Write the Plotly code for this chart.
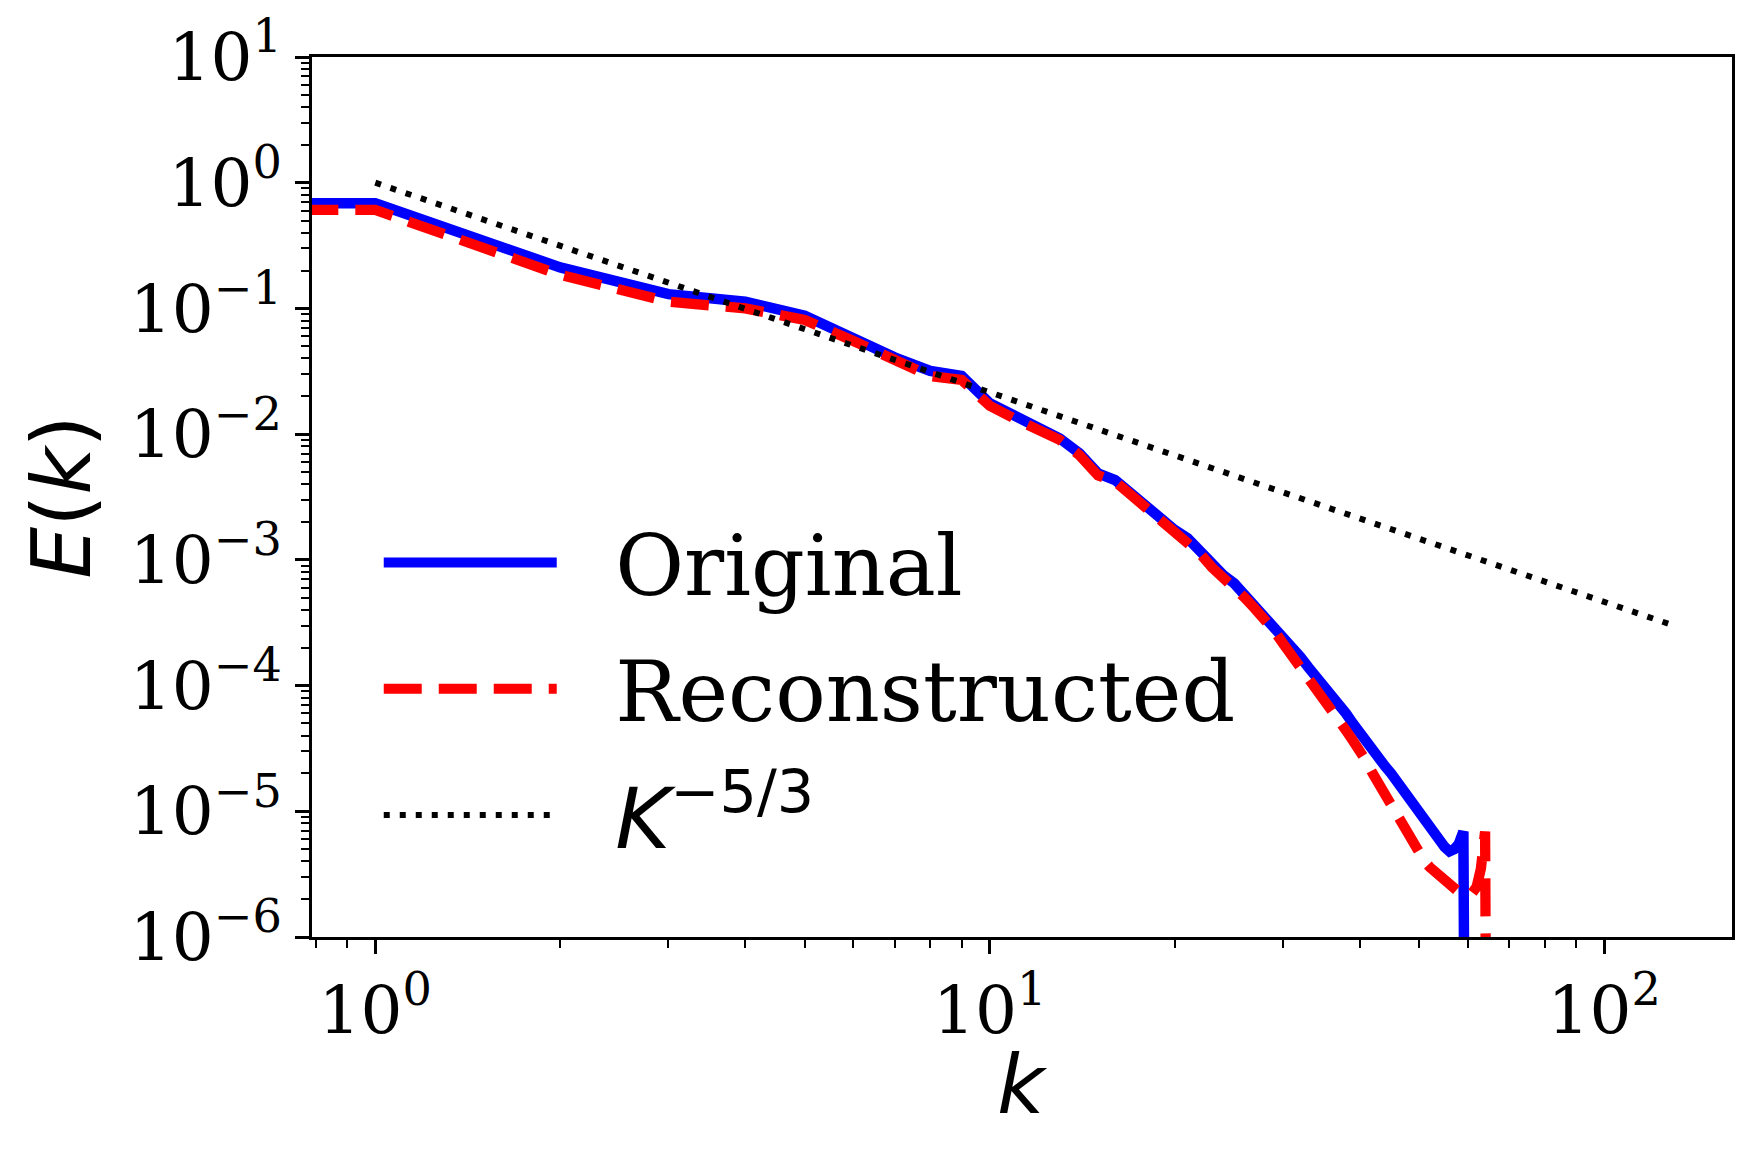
import plotly.graph_objects as go

# wavenumbers; the first entry stands in for k=0, which a log axis cannot show
K_ORIG = [0.5, 1, 2, 3, 4, 5, 6, 7, 8, 9, 10,
          11, 12, 13, 14, 15, 16, 17, 18, 19, 20,
          21, 22, 23, 24, 25, 26, 27, 28, 29, 30,
          31, 32, 33, 34, 35, 36, 37, 38, 39, 40,
          41, 42, 43, 44, 45, 46, 47, 48, 49, 50,
          51, 52, 53, 54, 55, 56, 57, 58, 59, 60]
E_ORIG = [0.686, 0.686, 0.212, 0.130, 0.113, 0.0875, 0.0578, 0.0408, 0.0319, 0.0290, 0.0176,
          0.0137, 0.0111, 0.00925, 0.00703, 0.00487, 0.00431, 0.00338, 0.00273, 0.00207, 0.00173,
          0.00148, 0.00116, 0.00091, 0.000757, 0.00065, 0.000525, 0.000424, 0.000364, 0.000305, 0.000252,
          0.000208, 0.000170, 0.000140, 0.000118, 0.000100, 8.45e-5, 7.1e-5, 6.0e-5, 5.0e-5, 4.17e-5,
          3.52e-5, 2.97e-5, 2.60e-5, 2.28e-5, 2.00e-5, 1.72e-5, 1.46e-5, 1.26e-5, 1.10e-5, 9.6e-6,
          8.3e-6, 7.2e-6, 6.4e-6, 5.7e-6, 5.2e-6, 4.8e-6, 5.0e-6, 5.5e-6, 6.9e-6, 1e-12]

K_REC = [0.5, 1, 2, 3, 4, 5, 6, 7, 8, 9, 10,
         11, 12, 13, 14, 15, 16, 17, 18, 19, 20,
         21, 22, 23, 24, 25, 26, 27, 28, 29, 30,
         31, 32, 33, 34, 35, 36, 37, 38, 39, 40,
         41, 42, 43, 44, 45, 46, 47, 48, 49, 50,
         51, 52, 53, 54, 55, 56, 57, 58, 59, 60,
         61, 62, 63, 64, 65]
E_REC = [0.607, 0.607, 0.185, 0.113, 0.100, 0.081, 0.055, 0.039, 0.029, 0.027, 0.0168,
         0.0132, 0.0108, 0.0090, 0.0068, 0.0047, 0.0042, 0.0033, 0.0026, 0.0020, 0.00167,
         0.00142, 0.00112, 0.00087, 0.00072, 0.00062, 0.00050, 0.00041, 0.00034, 0.000275, 0.000217,
         0.000175, 0.000141, 0.000115, 9.6e-5, 8.1e-5, 6.5e-5, 5.3e-5, 4.4e-5, 3.65e-5, 3.07e-5,
         2.5e-5, 2.0e-5, 1.65e-5, 1.35e-5, 1.09e-5, 9.0e-6, 7.5e-6, 6.3e-6, 5.4e-6, 4.6e-6,
         4.0e-6, 3.6e-6, 3.3e-6, 3.0e-6, 2.75e-6, 2.55e-6, 2.36e-6, 2.28e-6, 2.22e-6, 2.20e-6,
         2.25e-6, 2.5e-6, 3.5e-6, 6.9e-6, 1e-12]

K_REF = [1, 128]
E_REF = [1.0, 3.07e-4]

X_TICKS = [1, 10, 100]
X_TICKTEXT = ['10<sup>0</sup>', '10<sup>1</sup>', '10<sup>2</sup>']
Y_TICKS = [1e-6, 1e-5, 1e-4, 1e-3, 1e-2, 1e-1, 1e0, 1e1]
Y_TICKTEXT = ['10<sup>−6</sup>', '10<sup>−5</sup>', '10<sup>−4</sup>', '10<sup>−3</sup>',
              '10<sup>−2</sup>', '10<sup>−1</sup>', '10<sup>0</sup>', '10<sup>1</sup>']

SERIF = 'DejaVu Serif'
SANS = 'DejaVu Sans'
GAP = '&nbsp;&nbsp;'  # space between legend line and its label

fig = go.Figure()
fig.add_trace(go.Scatter(
    x=K_ORIG, y=E_ORIG, mode='lines', name=GAP + 'Original', legendgroup='a',
    line=dict(color='#0000ff', width=10.5),
))
fig.add_trace(go.Scatter(
    x=K_REC, y=E_REC, mode='lines', name=GAP + 'Reconstructed', legendgroup='b',
    line=dict(color='#ff0000', width=10.3, dash='38px,17px'),
))
fig.add_trace(go.Scatter(
    x=K_REF, y=E_REF, mode='lines', legendgroup='c',
    name=GAP + f'<span style="font-family:{SANS}"><i>K</i><sup>−5/3</sup></span>',
    line=dict(color='black', width=6, dash='6px,10px'),
))

axis_common = dict(
    type='log',
    showline=True, linecolor='black', linewidth=3, mirror=True,
    showgrid=False, zeroline=False,
    ticks='outside', ticklen=14, tickwidth=3, tickcolor='black',
    minor=dict(ticks='outside', ticklen=8, tickwidth=2.3, tickcolor='black',
               dtick='D1', showgrid=False),
    tickfont=dict(family=SERIF, size=66, color='black'),
    automargin=False,
)

fig.update_xaxes(
    **axis_common,
    range=[-0.103, 2.208],
    tickvals=X_TICKS, ticktext=X_TICKTEXT,
)
fig.update_yaxes(
    **axis_common,
    range=[-6, 1],
    tickvals=Y_TICKS, ticktext=Y_TICKTEXT,
    ticklabelstandoff=0,
    title=dict(text='<i>E</i>(<i>k</i>)', font=dict(family=SANS, size=82, color='black'), standoff=13),
)

# x title as an annotation so it can sit closer to the tick labels
fig.add_annotation(
    text='<i>k</i>', xref='paper', yref='paper', x=0.5, y=-0.168,
    xanchor='center', yanchor='middle', showarrow=False,
    font=dict(family=SANS, size=82, color='black'),
)

# the page body adds an 8px margin, so the figure is a little smaller than the window
fig.update_layout(
    width=1745, height=1144,
    margin=dict(l=304, r=21, t=49, b=215),
    paper_bgcolor='white', plot_bgcolor='white',
    showlegend=True,
    legend=dict(
        x=0.047, y=0.495, xanchor='left', yanchor='top',
        font=dict(family=SERIF, size=84, color='black'),
        bgcolor='rgba(0,0,0,0)', borderwidth=0,
        itemwidth=173, traceorder='grouped', tracegroupgap=14,
    ),
)

fig.write_html('out.html')
